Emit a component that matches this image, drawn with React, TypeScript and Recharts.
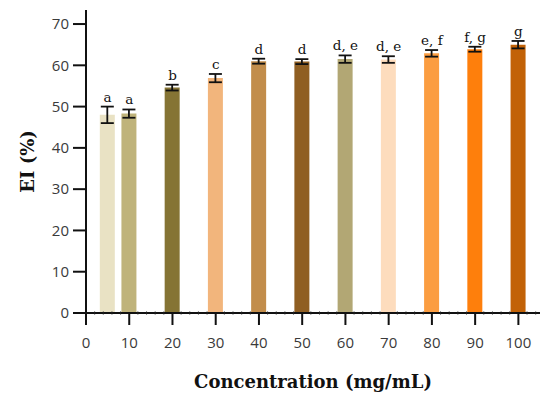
import { ComposedChart, Bar, XAxis, YAxis, ErrorBar, Cell, Scatter, Label } from "recharts";

// concentration (mg/mL) of each bar
const concentrations = [5, 10, 20, 30, 40, 50, 60, 70, 80, 90, 100];
// EI (%) mean and standard deviation
const eiMeans = [48.0, 48.3, 54.6, 56.9, 61.0, 60.9, 61.5, 61.4, 62.9, 63.9, 65.0];
const eiErrors = [2.0, 1.0, 0.7, 1.0, 0.6, 0.6, 0.9, 0.8, 0.8, 0.6, 0.9];
const groupLetters = ["a", "a", "b", "c", "d", "d", "d, e", "d, e", "e, f", "f, g", "g"];
const barColors = [
  "#e9e2c4",
  "#bfb37b",
  "#857434",
  "#f2b57c",
  "#c28d4b",
  "#8f5e22",
  "#b2a774",
  "#fddcbd",
  "#fb9d41",
  "#fe7f0c",
  "#c26207",
];

const yTicks = [0, 10, 20, 30, 40, 50, 60, 70];
const xTicks = [
  0, 2, 4, 6, 8, 10, 12, 14, 16, 18, 20, 22, 24, 26, 28, 30, 32, 34, 36, 38, 40,
  42, 44, 46, 48, 50, 52, 54, 56, 58, 60, 62, 64, 66, 68, 70, 72, 74, 76, 78, 80,
  82, 84, 86, 88, 90, 92, 94, 96, 98, 100, 102, 104,
];

const data = concentrations.map((c, i) => ({
  conc: c,
  ei: eiMeans[i],
  err: eiErrors[i],
  top: eiMeans[i] + eiErrors[i],
  letter: groupLetters[i],
}));

const tickFont = "'Open Sans', sans-serif";
const serif = "'DejaVu Serif', serif";

// eslint-disable-next-line @typescript-eslint/no-explicit-any
function XTick({ x, y, payload }: any) {
  const v = payload.value;
  const major = v % 10 === 0;
  if (!major) {
    return <line x1={x} x2={x} y1={y - 1.5} y2={y + 1.5} stroke="#222" strokeWidth={1} />;
  }
  return (
    <g>
      <line x1={x} x2={x} y1={y} y2={y + 12} stroke="#111" strokeWidth={2} />
      <text x={x} y={y + 35} textAnchor="middle" fontSize={15} fontFamily={tickFont} fill="#3a3a3a">
        {v}
      </text>
    </g>
  );
}

// eslint-disable-next-line @typescript-eslint/no-explicit-any
function LetterShape({ cx, cy, payload }: any) {
  return (
    <text x={cx} y={cy - 5} textAnchor="middle" fontSize={13.5} fontFamily={serif} fill="#111">
      {payload.letter}
    </text>
  );
}

export default function App() {
  return (
    <div style={{ position: "absolute", left: 0, top: 0, background: "#fff" }}>
      <ComposedChart
        width={550}
        height={399}
        data={data}
        margin={{ top: 10, right: 10, bottom: 0, left: 0 }}>
        <XAxis
          type="number"
          dataKey="conc"
          domain={[0, 105]}
          ticks={xTicks}
          interval={0}
          tick={<XTick />}
          tickLine={false}
          tickSize={0}
          tickMargin={0}
          height={86}
          axisLine={{ stroke: "#111", strokeWidth: 2 }}>
          <Label
            value="Concentration (mg/mL)"
            position="insideBottom"
            offset={11}
            style={{ fontFamily: serif, fontWeight: "bold", fontSize: 18, fill: "#111" }}
          />
        </XAxis>
        <YAxis
          type="number"
          domain={[0, 73.4]}
          ticks={yTicks}
          interval={0}
          width={86}
          tickSize={13}
          tickMargin={4}
          tick={{ fontSize: 15, fontFamily: tickFont, fill: "#3a3a3a" }}
          tickLine={{ stroke: "#111", strokeWidth: 2 }}
          axisLine={{ stroke: "#111", strokeWidth: 2 }}>
          <Label
            // eslint-disable-next-line @typescript-eslint/no-explicit-any
            content={({ viewBox }: any) => {
              const cx = viewBox.x + 27;
              const cy = viewBox.y + viewBox.height / 2;
              return (
                <text
                  x={cx}
                  y={cy}
                  transform={`rotate(-90 ${cx} ${cy})`}
                  textAnchor="middle"
                  dominantBaseline="central"
                  fontFamily={serif}
                  fontWeight="bold"
                  fontSize={18}
                  fill="#111">
                  EI (%)
                </text>
              );
            }}
          />
        </YAxis>
        <Bar dataKey="ei" barSize={15} isAnimationActive={false}>
          {data.map((d, i) => (
            <Cell key={d.conc} fill={barColors[i]} />
          ))}
          <ErrorBar dataKey="err" direction="y" width={6.5} stroke="#111" strokeWidth={1.8} />
        </Bar>
        <Scatter dataKey="top" shape={<LetterShape />} isAnimationActive={false} />
      </ComposedChart>
    </div>
  );
}
